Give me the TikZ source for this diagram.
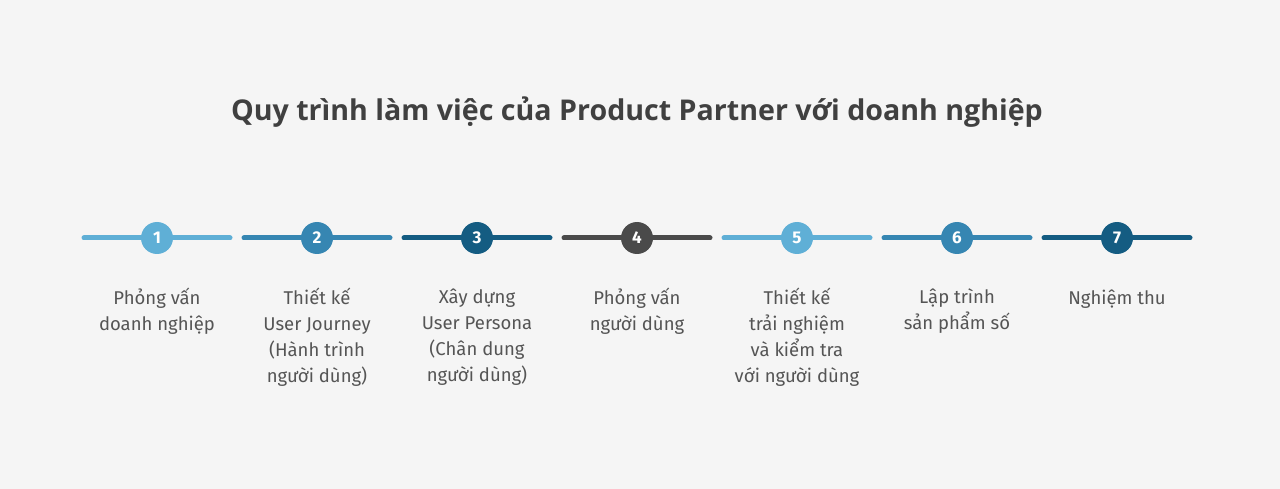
\documentclass[tikz,border=0pt]{standalone}
\usepackage{fontspec}
\setmainfont{Fira Sans}
\newfontfamily\titlefont{Open Sans}
\usetikzlibrary{positioning}
\definecolor{bgcol}{HTML}{F5F5F5}
\definecolor{lightcol}{HTML}{5FAFD6}
\definecolor{midcol}{HTML}{3686B2}
\definecolor{darkcol}{HTML}{145C82}
\definecolor{greycol}{HTML}{4A4A4A}
\definecolor{textcol}{HTML}{555555}
\definecolor{titlecol}{HTML}{404040}
\tikzset{
	stepnum/.style={circle, inner sep=0pt, minimum size=32pt, text=white, font=\bfseries\fontsize{17}{17}\selectfont},
	stepline/.style={line width=5pt, line cap=round},
	steplabel/.style={align=center, inner sep=0pt, text=textcol, font=\fontsize{18.5}{26}\selectfont, execute at begin node=\rule{0pt}{22pt}}
}
\begin{document}
\begin{tikzpicture}[x=1pt, y=-1pt]
	\fill[bgcol] (0,0) rectangle (1280,489);
	\useasboundingbox (0,0) rectangle (1280,489);
	
	\node [text=titlecol, font=\titlefont\bfseries\fontsize{28.6}{28.6}\selectfont] (title) at (637,112) {Quy trình làm việc của Product Partner với doanh nghiệp};
	
	\foreach \i/\c in {1/lightcol, 2/midcol, 3/darkcol, 4/greycol, 5/lightcol, 6/midcol, 7/darkcol} {
		\coordinate (l\i) at ({157+160*(\i-1)-73},238);
		\coordinate (r\i) at ({157+160*(\i-1)+73},238);
		\draw [stepline, draw=\c] (l\i) -- (r\i);
		\node [stepnum, fill=\c] (s\i) at ({157+160*(\i-1)},238) {\i};
	}
	
	\node [steplabel, below=34pt of s1] (t1) {Phỏng vấn\\doanh nghiệp};
	\node [steplabel, below=34pt of s2] (t2) {Thiết kế\\User Journey\\(Hành trình\\người dùng)};
	\node [steplabel, below=34pt of s3] (t3) {Xây dựng\\User Persona\\(Chân dung\\người dùng)};
	\node [steplabel, below=34pt of s4] (t4) {Phỏng vấn\\người dùng};
	\node [steplabel, below=34pt of s5] (t5) {Thiết kế\\trải nghiệm\\và kiểm tra\\với người dùng};
	\node [steplabel, below=34pt of s6] (t6) {Lập trình\\sản phẩm số};
	\node [steplabel, below=28pt of s7] (t7) {Nghiệm thu};
\end{tikzpicture}
\end{document}
